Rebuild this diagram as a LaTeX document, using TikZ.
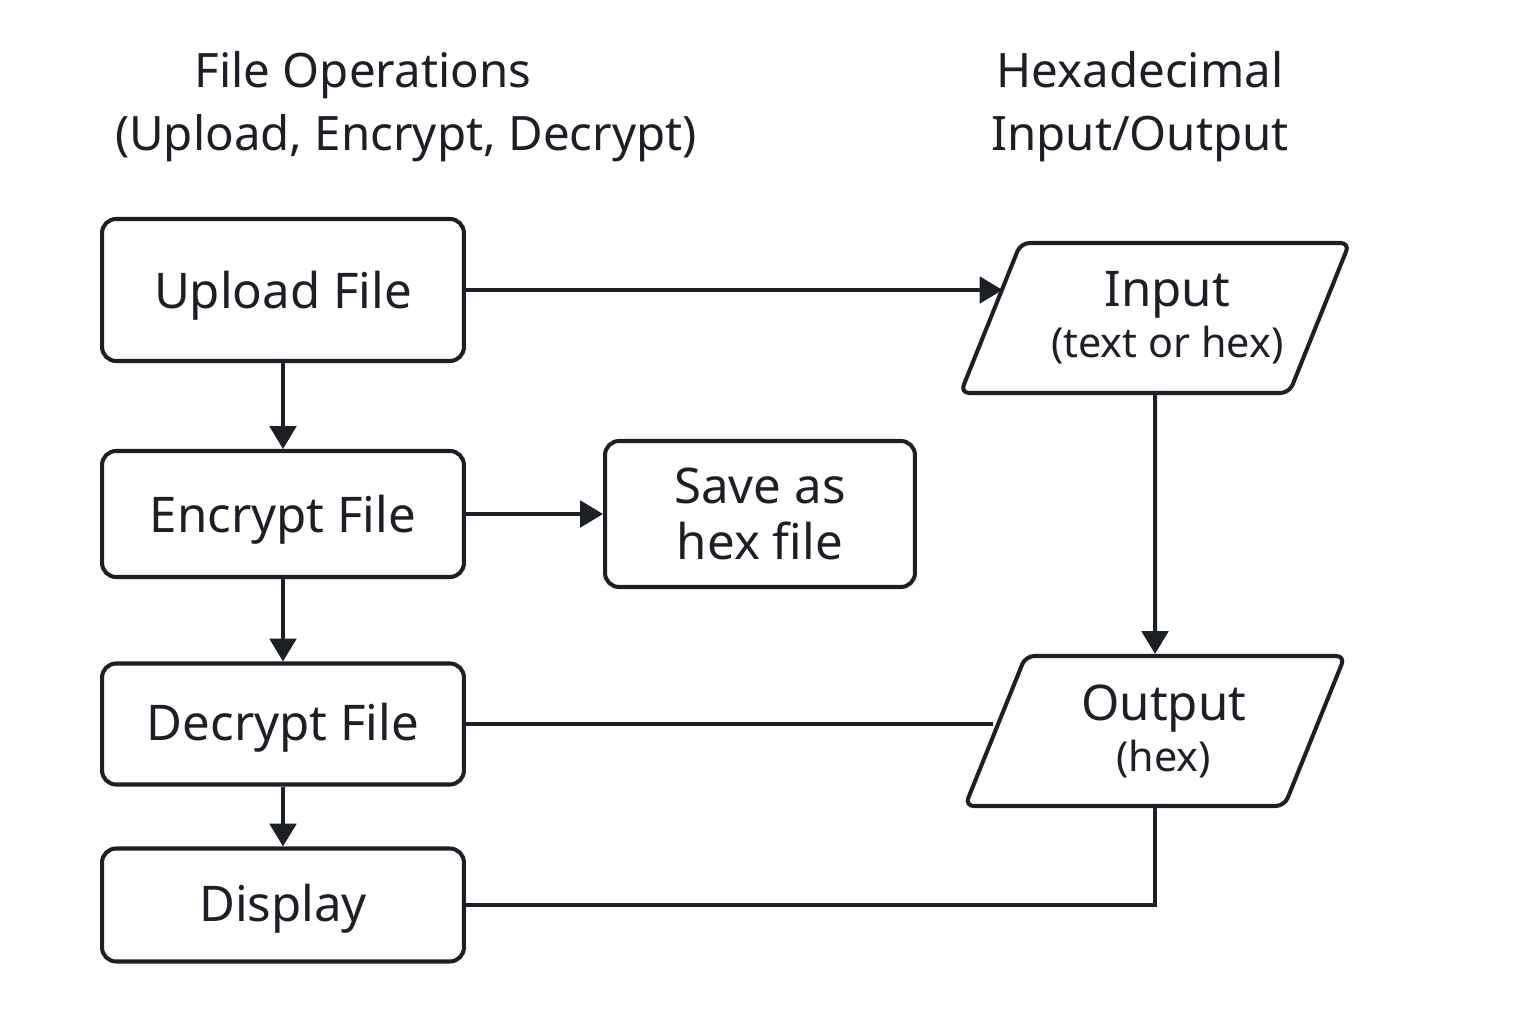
\documentclass[tikz,border=0pt]{standalone}
\usepackage{fontspec}
\setmainfont{Noto Sans}
\usetikzlibrary{shapes.geometric}
\usetikzlibrary{arrows.meta}
\usetikzlibrary{positioning}

\definecolor{ink}{HTML}{1C2026}

\begin{document}
\begin{tikzpicture}[x=0.02cm,y=-0.02cm,
every node/.style={text=ink,font=\fontsize{28}{32}\selectfont},
opbox/.style={draw=ink,line width=2.3pt,rounded corners=8pt,align=center,minimum width=7.24cm},
iobox/.style={draw=ink,line width=2.3pt,rounded corners=5pt,align=center,
shape=trapezium,trapezium left angle=60,trapezium right angle=120,
trapezium stretches body=true,minimum width=7.6cm,minimum height=3cm},
link/.style={draw=ink,line width=2.3pt},
flow/.style={link,-{Triangle[length=13pt,width=15pt]}}]
\useasboundingbox (0,0) rectangle (1536,1024);

\node[font=\fontsize{27}{32}\selectfont] (ftitle) at (363,75) {File Operations};
\node[font=\fontsize{27}{32}\selectfont] (fsub) at (406,138) {(Upload, Encrypt, Decrypt)};
\node[align=center,font=\fontsize{27}{35.7}\selectfont] (htitle) at (1140,107) {Hexadecimal\\Input/Output};

\node[opbox,minimum height=2.84cm,text height=28pt] (upload) at (283,290) {Upload File};
\node[opbox,minimum height=2.52cm,text height=28pt] (encrypt) at (283,514) {Encrypt File};
\node[opbox,minimum height=2.42cm,text height=25pt] (decrypt) at (283,724) {Decrypt File};
\node[opbox,minimum height=2.26cm,text height=25pt] (display) at (283,905) {Display};
\node[opbox,minimum width=6.2cm,minimum height=2.92cm] (save) at (760,514) {Save as\\hex file};

\node[iobox] (input) at (1155,318) {\hspace*{14pt}Input\\[-3pt]{\fontsize{23.5}{28}\selectfont\hspace*{14pt}(text or hex)}};
\node[iobox] (output) at (1155,731) {\hspace*{10pt}Output\\[-3pt]{\fontsize{23.5}{28}\selectfont\hspace*{10pt}(hex)}};

\draw[flow] (upload) -- (encrypt);
\draw[flow] (encrypt) -- (decrypt);
\draw[flow] (decrypt) -- (display);
\draw[flow] (encrypt) -- (save);
\draw[flow,shorten >=-8pt] (upload.east) -- (upload.east -| input.west);
\draw[flow] (input) -- (output);
\draw[link] (decrypt.east) -- (decrypt.east -| output.west);
\draw[link] (output.south) |- (display.east);
\end{tikzpicture}
\end{document}
